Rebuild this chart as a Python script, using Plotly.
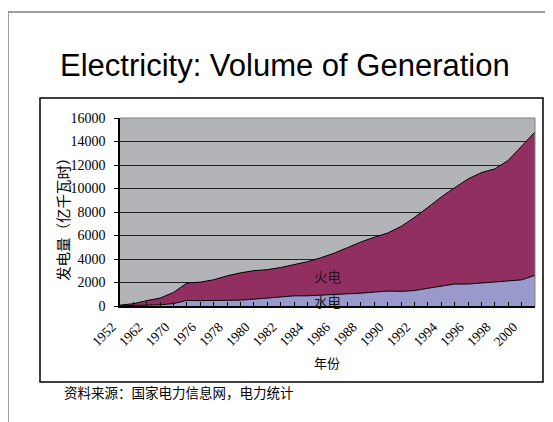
import plotly.graph_objects as go

# categories (years) and values in 亿千瓦时
years = ['1952', '1957', '1962', '1965', '1970', '1975', '1976', '1977', '1978', '1979',
         '1980', '1981', '1982', '1983', '1984', '1985', '1986', '1987', '1988', '1989',
         '1990', '1991', '1992', '1993', '1994', '1995', '1996', '1997', '1998', '1999',
         '2000', '2001']
hydro = [13, 48, 90, 104, 205, 476, 456, 476, 446, 501,
         582, 656, 744, 864, 868, 924, 945, 1000, 1092, 1185,
         1267, 1248, 1315, 1507, 1668, 1868, 1869, 1946, 2080, 2129,
         2224, 2611]
thermal = [60, 145, 368, 572, 954, 1482, 1575, 1758, 2120, 2319,
           2424, 2437, 2533, 2650, 2902, 3183, 3550, 3973, 4360, 4663,
           4945, 5527, 6224, 6888, 7613, 8202, 8944, 9410, 9590, 10264,
           11332, 12197]
tick_labels = [y if i % 2 == 0 else '' for i, y in enumerate(years)]
y_ticks = list(range(0, 16001, 2000))
y_tick_text = [str(v) for v in y_ticks]

W, H = 553, 422
OFF = 8  # page body margin
L, R, T, B = 120, 535, 118, 306  # plot area in page pixels


def px(x):
    return (x - L) / (R - L)


def py(y):
    return (B - y) / (B - T)


SERIF = 'Liberation Serif'
CJK = 'Noto Sans CJK SC'

fig = go.Figure()
fig.add_trace(go.Scatter(
    x=years, y=hydro, name='水电', stackgroup='one', mode='lines',
    line=dict(color='black', width=1), fillcolor='#9999CC'
))
fig.add_trace(go.Scatter(
    x=years, y=thermal, name='火电', stackgroup='one', mode='lines',
    line=dict(color='black', width=1), fillcolor='#913060'
))

annotations = [
    dict(x=px(285), y=py(66), text='Electricity: Volume of Generation',
         font=dict(family='Liberation Sans', size=31, color='black')),
    dict(x=px(327), y=py(276), text='火电', font=dict(family=CJK, size=13.5, color='#2a1020')),
    dict(x=px(327), y=py(301), text='水电', font=dict(family=CJK, size=13.5, color='#1a1a1a')),
    dict(x=px(327), y=py(362), text='年份', font=dict(family=CJK, size=13, color='black')),
    dict(x=px(62), y=py(215), text='发电量（亿千瓦时）', textangle=-90,
         font=dict(family=CJK, size=14.5, color='black')),
    dict(x=px(62), y=py(392), text='资料来源：国家电力信息网，电力统计', xanchor='left',
         font=dict(family=CJK, size=13.5, color='black')),
]
for a in annotations:
    a.setdefault('xanchor', 'center')
    a.update(xref='paper', yref='paper', yanchor='middle', showarrow=False)

shapes = [
    # outer slide frame (only left and top visible)
    dict(type='rect', x0=px(8), x1=px(600), y0=py(470), y1=py(12),
         line=dict(color='#808080', width=1.5)),
    # chart box
    dict(type='rect', x0=px(40), x1=px(543), y0=py(382), y1=py(98),
         line=dict(color='black', width=1.5)),
    # plot area border top/right
    dict(type='line', x0=0, x1=1, y0=1, y1=1, line=dict(color='#808080', width=1)),
    dict(type='line', x0=1, x1=1, y0=0, y1=1, line=dict(color='#808080', width=1)),
]
for s in shapes:
    s.update(xref='paper', yref='paper')

fig.update_layout(
    width=W, height=H,
    margin=dict(l=L - OFF, r=W - R + OFF, t=T - OFF, b=H - B + OFF),
    paper_bgcolor='white', plot_bgcolor='#B2B4B7',
    showlegend=False,
    annotations=annotations, shapes=shapes,
    xaxis=dict(
        type='category', range=[0, len(years) - 1],
        tickvals=years, ticktext=tick_labels, tickangle=-45,
        ticks='inside', ticklen=4, tickcolor='black',
        tickfont=dict(family=SERIF, size=13.5, color='black'),
        ticklabelstandoff=6, ticklabelshift=-8,
        showline=True, linecolor='black', linewidth=1.5,
        showgrid=False, zeroline=False,
    ),
    yaxis=dict(
        range=[0, 16000], tickvals=y_ticks, ticktext=y_tick_text,
        ticks='outside', ticklen=4, tickcolor='black',
        tickfont=dict(family=SERIF, size=14, color='black'),
        ticklabelstandoff=6,
        showline=True, linecolor='black', linewidth=1.5,
        showgrid=True, gridcolor='#222222', gridwidth=1, zeroline=False,
    ),
)

fig.write_html('out.html')
